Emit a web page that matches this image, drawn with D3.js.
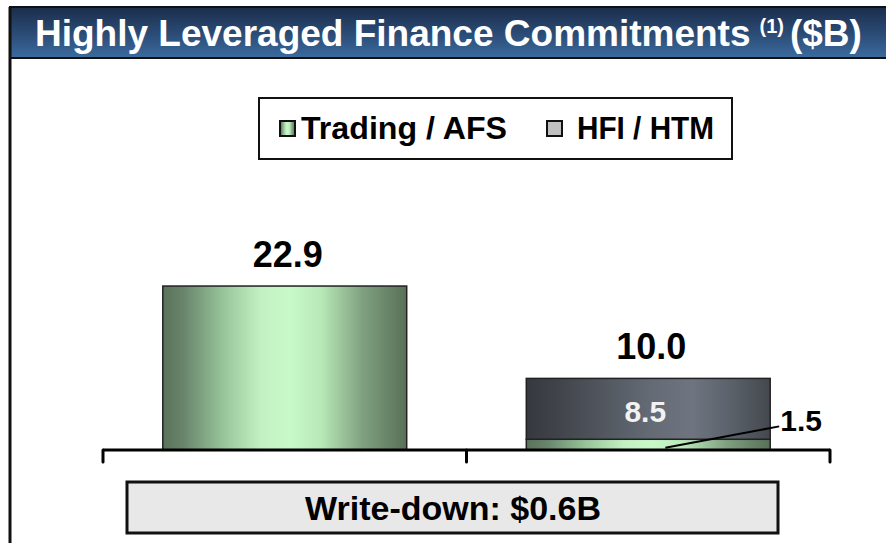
<!DOCTYPE html>
<html>
<head>
<meta charset="utf-8">
<script src="https://cdn.jsdelivr.net/npm/d3@7"></script>
<style>
  html, body { margin: 0; padding: 0; background: #fff; }
  svg { display: block; font-family: "Liberation Sans", Arial, sans-serif; }
</style>
</head>
<body>
<svg id="chart" width="886" height="543"></svg>
<script>
// ---- data ----
const categories = ["Commitments A", "Commitments B"];
const tradingAFS = [22.9, 1.5];
const hfiHTM = [0, 8.5];
const seriesNames = ["Trading / AFS", "HFI / HTM"];
const titleText = "Highly Leveraged Finance Commitments";
const titleNote = "(1)";
const titleUnit = "($B)";
const writeDownText = "Write-down: $0.6B";

const svg = d3.select("#chart");
const defs = svg.append("defs");

// gradients
const gTitle = defs.append("linearGradient").attr("id", "gTitle").attr("x1", 0).attr("y1", 0).attr("x2", 0).attr("y2", 1);
[[0, "#1b2d4b"], [0.5, "#2a4a74"], [1, "#3b6b9f"]].forEach(s => gTitle.append("stop").attr("offset", s[0]).attr("stop-color", s[1]));

const gGreen = defs.append("linearGradient").attr("id", "gGreen").attr("x1", 0).attr("y1", 0).attr("x2", 1).attr("y2", 0);
[[0, "#5a735a"], [0.08, "#67836a"], [0.25, "#98c69a"], [0.4, "#c3f0c3"], [0.52, "#c8f9c8"], [0.65, "#b8e8b8"], [0.82, "#7fa07f"], [1, "#587058"]]
  .forEach(s => gGreen.append("stop").attr("offset", s[0]).attr("stop-color", s[1]));

const gGray = defs.append("linearGradient").attr("id", "gGray").attr("x1", 0).attr("y1", 0).attr("x2", 1).attr("y2", 0);
[[0, "#35383d"], [0.2, "#474b52"], [0.5, "#636a74"], [0.68, "#6e7580"], [0.85, "#5a6068"], [1, "#44484e"]]
  .forEach(s => gGray.append("stop").attr("offset", s[0]).attr("stop-color", s[1]));

// frame: left border + title bar
svg.append("rect").attr("x", 10).attr("y", 7).attr("width", 880).attr("height", 51)
  .attr("fill", "url(#gTitle)").attr("stroke", "#111").attr("stroke-width", 2);
svg.append("line").attr("x1", 10).attr("x2", 10).attr("y1", 7).attr("y2", 543)
  .attr("stroke", "#111").attr("stroke-width", 3);
svg.append("line").attr("x1", 10).attr("x2", 886).attr("y1", 58).attr("y2", 58)
  .attr("stroke", "#111").attr("stroke-width", 2);

const title = svg.append("text").attr("x", 35).attr("y", 46)
  .attr("fill", "#fff").attr("font-weight", "bold").attr("font-size", 37);
title.append("tspan").text(titleText);
title.append("tspan").attr("font-size", 20).attr("dx", 9).attr("dy", -13).text(titleNote);
title.append("tspan").attr("dx", 6).attr("dy", 13).text(titleUnit);

// scales
const x = d3.scaleBand().domain(categories).range([103, 830])
  .paddingInner(0.329).paddingOuter(0.1645);
const y = d3.scaleLinear().domain([0, 25]).range([450, 271]);

const stackData = categories.map((c, i) => ({ cat: c, trading: tradingAFS[i], hfi: hfiHTM[i] }));
const stack = d3.stack().keys(["trading", "hfi"])(stackData);
const fills = { trading: "url(#gGreen)", hfi: "url(#gGray)" };

svg.append("g").selectAll("g").data(stack).join("g")
  .attr("fill", d => fills[d.key])
  .selectAll("rect").data(d => d.filter(p => p[1] > p[0])).join("rect")
  .attr("x", d => x(d.data.cat))
  .attr("width", x.bandwidth())
  .attr("y", d => y(d[1]))
  .attr("height", d => y(d[0]) - y(d[1]))
  .attr("stroke", "#222").attr("stroke-width", 1.5);

// axis with category separators
const step = x.step();
const bounds = [x.range()[0]].concat(categories.map((c, i) => x.range()[0] + step * (i + 1)));
const axisG = svg.append("g");
axisG.append("line").attr("x1", bounds[0]).attr("x2", bounds[bounds.length - 1])
  .attr("y1", y(0)).attr("y2", y(0)).attr("stroke", "#000").attr("stroke-width", 3);
axisG.selectAll("line.tick").data(bounds).join("line").attr("class", "tick")
  .attr("x1", d => d).attr("x2", d => d).attr("y1", y(0)).attr("y2", y(0) + 12)
  .attr("stroke", "#000").attr("stroke-width", 3).attr("stroke-linecap", "round");

// total labels
svg.append("g").selectAll("text").data(stackData).join("text")
  .attr("x", d => x(d.cat) + x.bandwidth() / 2 + 3)
  .attr("y", d => y(d.trading + d.hfi) - 19)
  .attr("text-anchor", "middle").attr("font-weight", "bold").attr("font-size", 36)
  .attr("fill", "#000").text(d => d3.format(".1f")(d.trading + d.hfi));

// inner label for HFI segment
const b2 = stackData[1];
svg.append("text")
  .attr("x", x(b2.cat) + x.bandwidth() / 2 - 3)
  .attr("y", (y(b2.trading) + y(b2.trading + b2.hfi)) / 2 + 13)
  .attr("text-anchor", "middle").attr("font-weight", "bold").attr("font-size", 30)
  .attr("fill", "#f2f2f2").text(d3.format(".1f")(b2.hfi));

// callout for small trading segment
svg.append("line")
  .attr("x1", x(b2.cat) + x.bandwidth() * 0.57).attr("y1", y(b2.trading * 0.2))
  .attr("x2", x(b2.cat) + x.bandwidth() + 9).attr("y2", y(3.3))
  .attr("stroke", "#000").attr("stroke-width", 2);
svg.append("text")
  .attr("x", x(b2.cat) + x.bandwidth() + 10).attr("y", y(b2.trading) - 8)
  .attr("font-weight", "bold").attr("font-size", 30).attr("fill", "#000")
  .text(d3.format(".1f")(b2.trading));

// legend
const legend = svg.append("g");
legend.append("rect").attr("x", 259).attr("y", 98).attr("width", 473).attr("height", 61)
  .attr("fill", "#fff").attr("stroke", "#111").attr("stroke-width", 2);
const legendItems = [
  { name: seriesNames[0], fill: "url(#gGreen)", sx: 280, tx: 301, w: 206 },
  { name: seriesNames[1], fill: "#c0c0c0", sx: 547, tx: 577, w: 137 }
];
legendItems.forEach(it => {
  legend.append("rect").attr("x", it.sx).attr("y", 121).attr("width", 15).attr("height", 15)
    .attr("fill", it.fill).attr("stroke", "#111").attr("stroke-width", 2);
  legend.append("text").attr("x", it.tx).attr("y", 139)
    .attr("font-weight", "bold").attr("font-size", 31).attr("fill", "#000")
    .attr("textLength", it.w).attr("lengthAdjust", "spacingAndGlyphs").text(it.name);
});

// write-down box
svg.append("rect").attr("x", 127).attr("y", 482).attr("width", 651).attr("height", 51)
  .attr("fill", "#e8e8e8").attr("stroke", "#111").attr("stroke-width", 3);
svg.append("text").attr("x", 453).attr("y", 520).attr("text-anchor", "middle")
  .attr("font-weight", "bold").attr("font-size", 34).attr("fill", "#000").text(writeDownText);
</script>
</body>
</html>
